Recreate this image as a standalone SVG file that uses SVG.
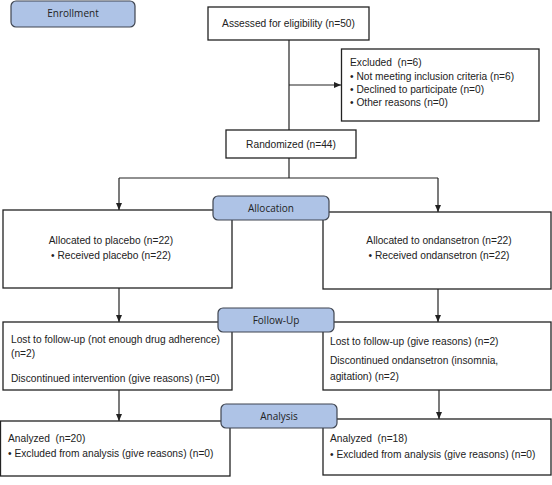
<svg xmlns="http://www.w3.org/2000/svg" width="552" height="485" viewBox="0 0 552 485">
<defs>
<style>
.box{fill:#fff;stroke:#222;stroke-width:1.3}
.lab{fill:#aec3e6;stroke:#3f4550;stroke-width:1.2}
.t{font-family:"Liberation Sans",Arial,sans-serif;font-size:10.2px;fill:#222}
.l{font-family:"Open Sans","Noto Sans",sans-serif;font-size:10px;fill:#222;text-anchor:middle}
.c{text-anchor:middle}
.ln{fill:none;stroke:#222;stroke-width:1.2}
</style>
<marker id="ah" markerWidth="8" markerHeight="8" refX="7" refY="4" orient="auto" markerUnits="userSpaceOnUse">
<path d="M0,1 L7,4 L0,7 Z" fill="#222"/>
</marker>
</defs>
<rect width="552" height="485" fill="#fff"/>
<g id="connectors">
<path class="ln" d="M289,40 V130"/>
<path class="ln" d="M289,85 H341" marker-end="url(#ah)"/>
<path class="ln" d="M289,158 V178"/>
<path class="ln" d="M119,178 H438"/>
<path class="ln" d="M119,178 V210" marker-end="url(#ah)"/>
<path class="ln" d="M438,178 V212" marker-end="url(#ah)"/>
<path class="ln" d="M119,288 V322" marker-end="url(#ah)"/>
<path class="ln" d="M438,289 V322" marker-end="url(#ah)"/>
<path class="ln" d="M119,390 V421" marker-end="url(#ah)"/>
<path class="ln" d="M439,390 V419" marker-end="url(#ah)"/>
</g>
<g id="assessed">
<rect class="box" x="208" y="7" width="161" height="33"/>
<text class="t c" x="288.5" y="27">Assessed for eligibility (n=50)</text>
</g>
<g id="excluded">
<rect class="box" x="341.5" y="49" width="197.5" height="72"/>
<text class="t" x="350" y="66">Excluded&#160; (n=6)</text>
<text class="t" x="350" y="80">• Not meeting inclusion criteria (n=6)</text>
<text class="t" x="350" y="93">• Declined to participate (n=0)</text>
<text class="t" x="350" y="106">• Other reasons (n=0)</text>
</g>
<g id="randomized">
<rect class="box" x="226" y="130" width="130" height="28"/>
<text class="t c" x="291" y="148">Randomized (n=44)</text>
</g>
<g id="alloc-placebo">
<rect class="box" x="3" y="210" width="229" height="78"/>
<text class="t c" x="111" y="244">Allocated to placebo (n=22)</text>
<text class="t c" x="111" y="259">• Received placebo (n=22)</text>
</g>
<g id="alloc-ondansetron">
<rect class="box" x="323" y="212" width="228" height="77"/>
<text class="t c" x="439" y="244">Allocated to ondansetron (n=22)</text>
<text class="t c" x="439" y="259">• Received ondansetron (n=22)</text>
</g>
<g id="follow-placebo">
<rect class="box" x="3" y="322" width="229" height="68"/>
<text class="t" x="11" y="343">Lost to follow-up (not enough drug adherence)</text>
<text class="t" x="11" y="357">(n=2)</text>
<text class="t" x="11" y="382">Discontinued intervention (give reasons) (n=0)</text>
</g>
<g id="follow-ondansetron">
<rect class="box" x="323" y="322" width="228" height="68"/>
<text class="t" x="330" y="345">Lost to follow-up (give reasons) (n=2)</text>
<text class="t" x="330" y="364">Discontinued ondansetron (insomnia,</text>
<text class="t" x="330" y="380">agitation) (n=2)</text>
</g>
<g id="analysis-placebo">
<rect class="box" x="0.5" y="421" width="229.5" height="55"/>
<text class="t" x="8" y="442">Analyzed&#160; (n=20)</text>
<text class="t" x="8" y="457">• Excluded from analysis (give reasons) (n=0)</text>
</g>
<g id="analysis-ondansetron">
<rect class="box" x="323" y="419" width="228" height="56"/>
<text class="t" x="330" y="442">Analyzed&#160; (n=18)</text>
<text class="t" x="330" y="458">• Excluded from analysis (give reasons) (n=0)</text>
</g>
<g id="enrollment">
<rect class="lab" x="11" y="1" width="124" height="26" rx="5"/>
<text class="l" x="73" y="17">Enrollment</text>
</g>
<g id="allocation">
<rect class="lab" x="213" y="196" width="116" height="24" rx="5"/>
<text class="l" x="271" y="212">Allocation</text>
</g>
<g id="followup">
<rect class="lab" x="218" y="308" width="116" height="24" rx="5"/>
<text class="l" x="276" y="324">Follow-Up</text>
</g>
<g id="analysis">
<rect class="lab" x="221" y="404" width="116" height="24" rx="5"/>
<text class="l" x="279" y="420">Analysis</text>
</g>
</svg>
